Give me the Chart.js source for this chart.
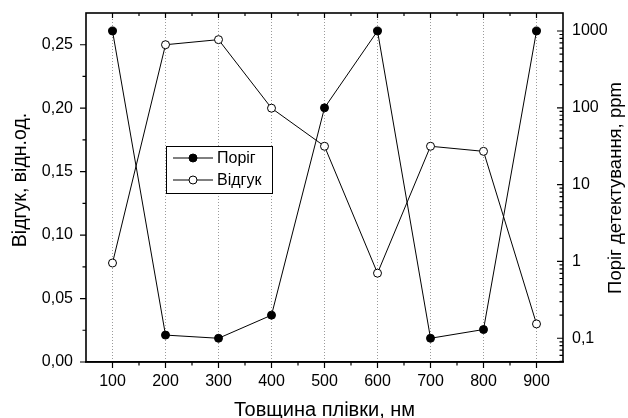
<!DOCTYPE html>
<html>
<head>
<meta charset="utf-8">
<script src="https://cdn.jsdelivr.net/npm/chart.js@4.4.0/dist/chart.umd.min.js"></script>
<style>
  html, body { margin: 0; padding: 0; background: #fff; }
  #wrap { width: 628px; height: 418px; }
</style>
</head>
<body>
<div id="wrap"><canvas id="myChart" width="628" height="418"></canvas></div>
<script>
// thickness of film, nm
const thickness = [100, 200, 300, 400, 500, 600, 700, 800, 900];
// detection threshold, ppm (right, log axis)
const threshold = [1000, 0.11, 0.1, 0.2, 100, 1000, 0.1, 0.13, 1000];
// response, rel. units (left axis)
const response = [0.078, 0.25, 0.254, 0.2, 0.17, 0.07, 0.17, 0.166, 0.03];

const seriesNames = ["Поріг", "Відгук"];
const xTicks = [100, 200, 300, 400, 500, 600, 700, 800, 900];
const leftTicks = [0, 0.05, 0.1, 0.15, 0.2, 0.25];
const rightTicks = [0.1, 1, 10, 100, 1000];
const rightLabels = ["0,1", "1", "10", "100", "1000"];

const fontFamily = "'Liberation Sans', Arial, sans-serif";

// frame, tick marks, y titles and legend
const decorPlugin = {
  id: "decor",
  afterDraw(chart) {
    const ctx = chart.ctx;
    const a = chart.chartArea;
    const sx = chart.scales.x;
    const sy = chart.scales.y;
    const sy2 = chart.scales.y2;

    ctx.save();
    ctx.strokeStyle = "#000";
    ctx.lineWidth = 1.6;
    ctx.strokeRect(a.left, a.top, a.right - a.left, a.bottom - a.top);

    ctx.lineWidth = 1.2;
    ctx.beginPath();
    // bottom (outward) and top (inward)
    for (let v = 100; v <= 900; v += 50) {
      const px = sx.getPixelForValue(v);
      const major = v % 100 === 0;
      ctx.moveTo(px, a.bottom);
      ctx.lineTo(px, a.bottom + (major ? 6 : 3.5));
      ctx.moveTo(px, a.top);
      ctx.lineTo(px, a.top + (major ? 5 : 3));
    }
    // left (outward)
    for (let i = 0; i <= 10; i++) {
      const v = i * 0.025;
      const py = sy.getPixelForValue(v);
      const major = i % 2 === 0;
      ctx.moveTo(a.left, py);
      ctx.lineTo(a.left - (major ? 6 : 3.5), py);
    }
    // right log (inward)
    for (let d = -2; d <= 3; d++) {
      for (let k = 1; k <= 9; k++) {
        const v = k * Math.pow(10, d);
        if (v < sy2.min || v > sy2.max) continue;
        const py = sy2.getPixelForValue(v);
        ctx.moveTo(a.right, py);
        ctx.lineTo(a.right - (k === 1 ? 6 : 3.5), py);
      }
    }
    ctx.stroke();

    // axis titles
    ctx.fillStyle = "#000";
    ctx.textAlign = "center";
    ctx.textBaseline = "middle";
    ctx.save();
    ctx.font = "19.5px " + fontFamily;
    ctx.translate(21, 180);
    ctx.rotate(-Math.PI / 2);
    ctx.fillText("Відгук, відн.од.", 0, 0);
    ctx.restore();
    ctx.save();
    ctx.font = "18.5px " + fontFamily;
    ctx.translate(616, 188);
    ctx.rotate(-Math.PI / 2);
    ctx.fillText("Поріг детектування, ppm", 0, 0);
    ctx.restore();

    // legend
    const lx = 166.5, ly = 146.5, lw = 106, lh = 47;
    ctx.fillStyle = "#fff";
    ctx.fillRect(lx, ly, lw, lh);
    ctx.lineWidth = 1;
    ctx.strokeRect(lx, ly, lw, lh);
    ctx.font = "16px " + fontFamily;
    ctx.textAlign = "left";
    chart.data.datasets.forEach((ds, i) => {
      const yy = 158 + i * 22;
      ctx.beginPath();
      ctx.moveTo(173, yy);
      ctx.lineTo(213, yy);
      ctx.strokeStyle = "#000";
      ctx.stroke();
      ctx.beginPath();
      ctx.arc(193, yy, 4, 0, Math.PI * 2);
      ctx.fillStyle = ds.pointBackgroundColor;
      ctx.fill();
      ctx.stroke();
      ctx.fillStyle = "#000";
      ctx.fillText(ds.label, 217, yy + 1);
    });
    ctx.restore();
  },
};

const ctx = document.getElementById("myChart");

new Chart(ctx, {
  type: "line",
  data: {
    datasets: [
      {
        label: seriesNames[0],
        data: thickness.map((t, i) => ({ x: t, y: threshold[i] })),
        yAxisID: "y2",
        borderColor: "#000",
        borderWidth: 1,
        pointRadius: 4,
        pointBackgroundColor: "#000",
        pointBorderColor: "#000",
        pointBorderWidth: 1,
        tension: 0,
      },
      {
        label: seriesNames[1],
        data: thickness.map((t, i) => ({ x: t, y: response[i] })),
        yAxisID: "y",
        borderColor: "#000",
        borderWidth: 1,
        pointRadius: 4,
        pointBackgroundColor: "#fff",
        pointBorderColor: "#000",
        pointBorderWidth: 1,
        tension: 0,
      },
    ],
  },
  options: {
    responsive: false,
    animation: false,
    devicePixelRatio: 1,
    layout: { padding: { top: 13, left: 0, right: 0, bottom: 0 } },
    plugins: {
      legend: { display: false },
      tooltip: { enabled: false },
    },
    scales: {
      x: {
        type: "linear",
        min: 50,
        max: 950,
        afterBuildTicks: (scale) => {
          scale.ticks = xTicks.map((v) => ({ value: v }));
        },
        afterFit: (scale) => {
          scale.height = 56;
          scale.paddingLeft = 0;
          scale.paddingRight = 0;
        },
        grid: {
          color: "#9a9a9a",
          lineWidth: 1,
          drawTicks: false,
        },
        border: { display: true, color: "#000", width: 1.5, dash: [1, 2] },
        ticks: {
          color: "#000",
          padding: 10,
          maxRotation: 0,
          font: { family: fontFamily, size: 16 },
          callback: (v) => String(v),
        },
        title: {
          display: true,
          text: "Товщина плівки, нм",
          color: "#000",
          font: { family: fontFamily, size: 20 },
          padding: { top: 0, bottom: -4 },
        },
      },
      y: {
        type: "linear",
        position: "left",
        min: 0,
        max: 0.275,
        afterBuildTicks: (scale) => {
          scale.ticks = leftTicks.map((v) => ({ value: v }));
        },
        afterFit: (scale) => {
          scale.width = 86;
          scale.paddingTop = 0;
          scale.paddingBottom = 0;
        },
        grid: { display: false, drawTicks: false },
        border: { display: false },
        ticks: {
          color: "#000",
          padding: 13,
          font: { family: fontFamily, size: 16 },
          callback: (v) => v.toFixed(2).replace(".", ","),
        },
      },
      y2: {
        type: "logarithmic",
        position: "right",
        min: 0.0491,
        max: 1715,
        afterBuildTicks: (scale) => {
          scale.ticks = rightTicks.map((v) => ({ value: v }));
        },
        afterFit: (scale) => {
          scale.width = 65;
          scale.paddingTop = 0;
          scale.paddingBottom = 0;
        },
        grid: { display: false, drawTicks: false },
        border: { display: false },
        ticks: {
          color: "#000",
          padding: 9,
          font: { family: fontFamily, size: 16 },
          callback: (v) => rightLabels[rightTicks.indexOf(v)],
        },
      },
    },
  },
  plugins: [decorPlugin],
});
</script>
</body>
</html>
